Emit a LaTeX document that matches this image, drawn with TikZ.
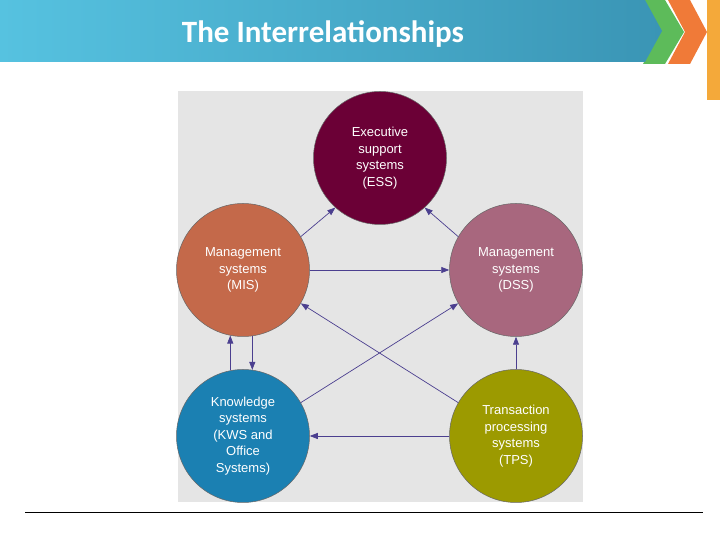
\documentclass[tikz,border=0pt]{standalone}
\usepackage{fontspec}
\setmainfont{Liberation Sans}
\newfontfamily\titlefont{Carlito}
\usetikzlibrary{arrows.meta,calc}
\definecolor{essc}{HTML}{6B0036}
\definecolor{misc}{HTML}{C4694A}
\definecolor{dssc}{HTML}{A8677E}
\definecolor{kwsc}{HTML}{1B80B2}
\definecolor{tpsc}{HTML}{9C9A00}
\definecolor{arr}{HTML}{4B3F8F}
\definecolor{hdrl}{HTML}{56C2E0}
\definecolor{hdrr}{HTML}{3A95B5}
\definecolor{grn}{HTML}{5DBB5A}
\definecolor{org}{HTML}{F07A38}
\definecolor{yel}{HTML}{F4A93A}
\begin{document}
\begin{tikzpicture}[x=1pt,y=1pt,
  sys/.style={circle,draw=black!60,line width=0.5pt,minimum size=133pt,inner sep=0pt,text=white,align=center,font=\fontsize{13}{16.5}\selectfont},
  link/.style={draw=arr,line width=0.7pt,-{Triangle[length=8pt,width=6pt]}}]
\useasboundingbox (0,0) rectangle (720,540);
\fill[white] (0,0) rectangle (720,540);
% header
\fill[yel] (707,540) rectangle (720,440);
\fill[org] (668,540) -- (690,540) -- (707,508) -- (690,476) -- (668,476) -- (685,508) -- cycle;
\fill[grn] (643,540) -- (665,540) -- (684,508) -- (665,476) -- (643,476) -- (660,508) -- cycle;
\shade[left color=hdrl,right color=hdrr] (0,540) -- (645,540) -- (662,509) -- (645,478) -- (0,478) -- cycle;
\node[text=white,font=\titlefont\bfseries\fontsize{31}{36}\selectfont] (title) at (323,506) {The Interrelationships};
% panel
\fill[black!10] (178,38) rectangle (583,449);
\node[sys,fill=essc] (ess) at (380,382) {Executive\\support\\systems\\(ESS)};
\node[sys,fill=misc] (mis) at (243,270) {Management\\systems\\(MIS)};
\node[sys,fill=dssc] (dss) at (516,270) {Management\\systems\\(DSS)};
\node[sys,fill=kwsc] (kws) at (243,104) {Knowledge\\systems\\(KWS and\\Office\\Systems)};
\node[sys,fill=tpsc] (tps) at (516,104) {Transaction\\processing\\systems\\(TPS)};
\draw[link] (mis.30) -- (ess.228);
\draw[link] (dss.150) -- (ess.312);
\draw[link] (mis.east) -- (dss.west);
\draw[link] (tps.150) -- (mis.330);
\draw[link] (kws.30) -- (dss.210);
\draw[link] (kws.101) -- (mis.259);
\draw[link] (mis.278) -- (kws.82);
\draw[link] (tps.north) -- (dss.south);
\draw[link] (tps.west) -- (kws.east);
\coordinate (l1) at (25,28);
\coordinate (l2) at (703,28);
\draw[black,line width=0.6pt] (l1) -- (l2);
\end{tikzpicture}
\end{document}
